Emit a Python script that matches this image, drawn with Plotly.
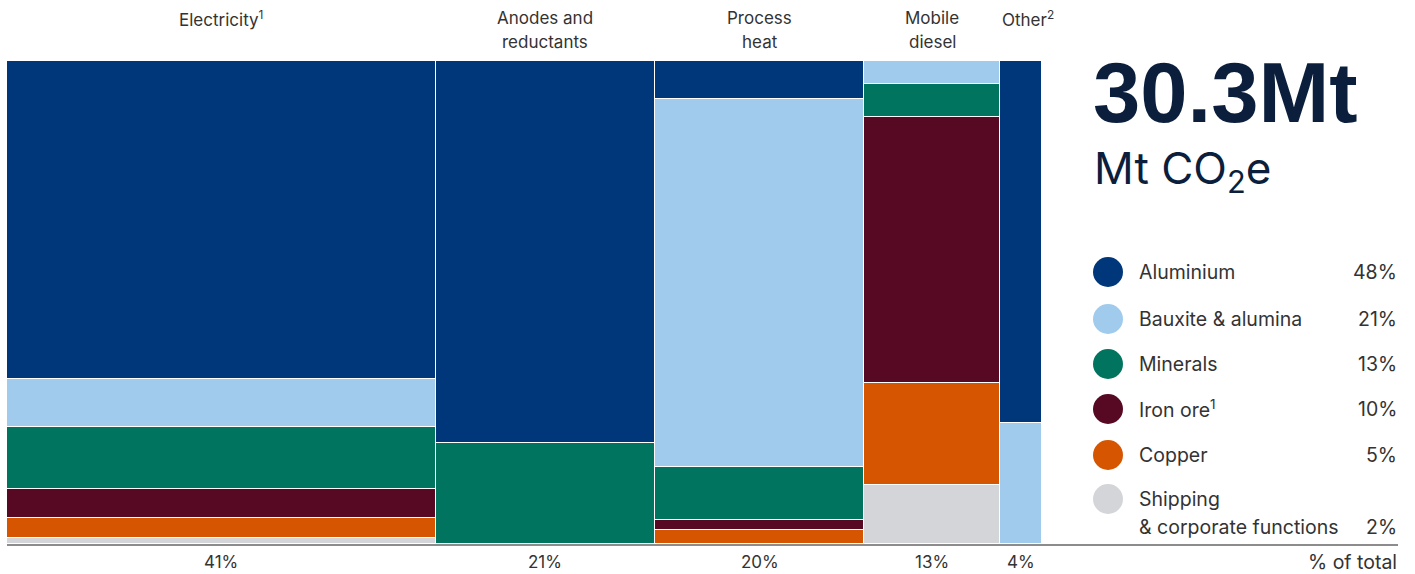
import plotly.graph_objects as go

# ---------------- data ----------------
categories = ["Electricity<sup>1</sup>", "Anodes and<br>reductants", "Process<br>heat", "Mobile<br>diesel", "Other<sup>2</sup>"]
column_share = [41, 21, 20, 13, 4]          # % of total (column widths)
column_labels = ["41%", "21%", "20%", "13%", "4%"]

segments = ["Aluminium", "Bauxite & alumina", "Minerals", "Iron ore<sup>1</sup>", "Copper", "Shipping<br>& corporate functions"]
segment_totals = ["48%", "21%", "13%", "10%", "5%", "2%"]
colors = ["#00377A", "#A0CBED", "#00745F", "#570822", "#D55500", "#D4D5D9"]

# share of each segment within each column (%)
aluminium = [65.8, 79.0, 7.9, 0.0, 75.0]
bauxite   = [9.9, 0.0, 76.2, 4.8, 25.0]
minerals  = [13.0, 21.0, 11.0, 6.8, 0.0]
iron_ore  = [6.0, 0.0, 1.9, 55.1, 0.0]
copper    = [4.0, 0.0, 3.0, 21.1, 0.0]
shipping  = [1.3, 0.0, 0.0, 12.2, 0.0]
series = [aluminium, bauxite, minerals, iron_ore, copper, shipping]

total_label = "30.3Mt"
unit_label = "Mt CO<sub>2</sub>e"

# ---------------- geometry helpers ----------------
W, H = 1415, 574
ML, MR, MT, MB = 7, 0, 61, 30
PW, PH = W - ML - MR, H - MT - MB

def px(x):
    return (x - ML) / PW

def py(y):
    return (H - MB - y) / PH

total_w = sum(column_share)
lefts = []
acc = 0
for w in column_share:
    lefts.append(acc)
    acc += w
centers = [l + w / 2 for l, w in zip(lefts, column_share)]

fig = go.Figure()
for name, vals, col in reversed(list(zip(segments, series, colors))):
    fig.add_trace(go.Bar(
        x=centers, y=vals, width=column_share, name=name,
        marker=dict(color=col, line=dict(color="white", width=1)),
        hoverinfo="skip", showlegend=False,
    ))

TXT = "#333333"
NAVY = "#0B1F3D"
FONT = "Inter"

ann = []
for i, (c, lab, pl) in enumerate(zip(centers, categories, column_labels)):
    narrow = i == len(categories) - 1
    hx = lefts[i] if narrow else c
    for j, line in enumerate(lab.split("<br>")):
        ann.append(dict(x=hx, xref="x", y=py(18 + 24 * j), yref="paper", text=line, showarrow=False,
                        xanchor="left" if narrow else "center", yanchor="middle",
                        font=dict(size=17, color=TXT, family=FONT)))
    ann.append(dict(x=c, xref="x", y=py(562), yref="paper", text=pl, showarrow=False,
                    xanchor="center", yanchor="middle", font=dict(size=17, color=TXT, family=FONT)))

ann.append(dict(x=px(1091), xref="paper", y=py(93), yref="paper", text="<b>" + total_label + "</b>",
                showarrow=False, xanchor="left", yanchor="middle",
                font=dict(size=85, color=NAVY, family="Liberation Sans")))
ann.append(dict(x=px(1092), xref="paper", y=py(171), yref="paper", text=unit_label,
                showarrow=False, xanchor="left", yanchor="middle",
                font=dict(size=44, color=NAVY, family=FONT)))

shapes = []
row_y = [272, 319, 364, 409, 455, 499]
for i, (name, tot, col) in enumerate(zip(segments, segment_totals, colors)):
    cy = row_y[i]
    shapes.append(dict(type="circle", xref="paper", yref="paper",
                       x0=px(1093), x1=px(1123), y0=py(cy + 15), y1=py(cy - 15),
                       fillcolor=col, line=dict(width=0)))
    lines = name.split("<br>")
    for j, line in enumerate(lines):
        ann.append(dict(x=px(1137), xref="paper", y=py(cy + 28 * j), yref="paper", text=line,
                        showarrow=False, xanchor="left", yanchor="middle",
                        font=dict(size=19.5, color=TXT, family=FONT)))
    ann.append(dict(x=px(1399), xref="paper", y=py(cy + 28 * (len(lines) - 1)), yref="paper", text=tot,
                    showarrow=False, xanchor="right", yanchor="middle",
                    font=dict(size=19.5, color=TXT, family=FONT)))

ann.append(dict(x=px(1399), xref="paper", y=py(562), yref="paper", text="% of total",
                showarrow=False, xanchor="right", yanchor="middle",
                font=dict(size=19.5, color=TXT, family=FONT)))

shapes.append(dict(type="line", xref="paper", yref="paper", x0=px(7), x1=px(1398),
                   y0=py(545), y1=py(545), line=dict(color="#666666", width=1.5)))

fig.update_layout(
    width=W, height=H, margin=dict(l=ML, r=MR, t=MT, b=MB),
    barmode="stack", bargap=0,
    plot_bgcolor="white", paper_bgcolor="white",
    xaxis=dict(range=[0, total_w], domain=[0, 1035 / PW], visible=False, fixedrange=True),
    yaxis=dict(range=[0, 100], visible=False, fixedrange=True),
    annotations=ann, shapes=shapes,
    font=dict(family=FONT, color=TXT),
)

fig.write_html("out.html", config={"displayModeBar": False},
               post_script="document.body.style.margin='0';document.body.style.overflow='hidden';")
